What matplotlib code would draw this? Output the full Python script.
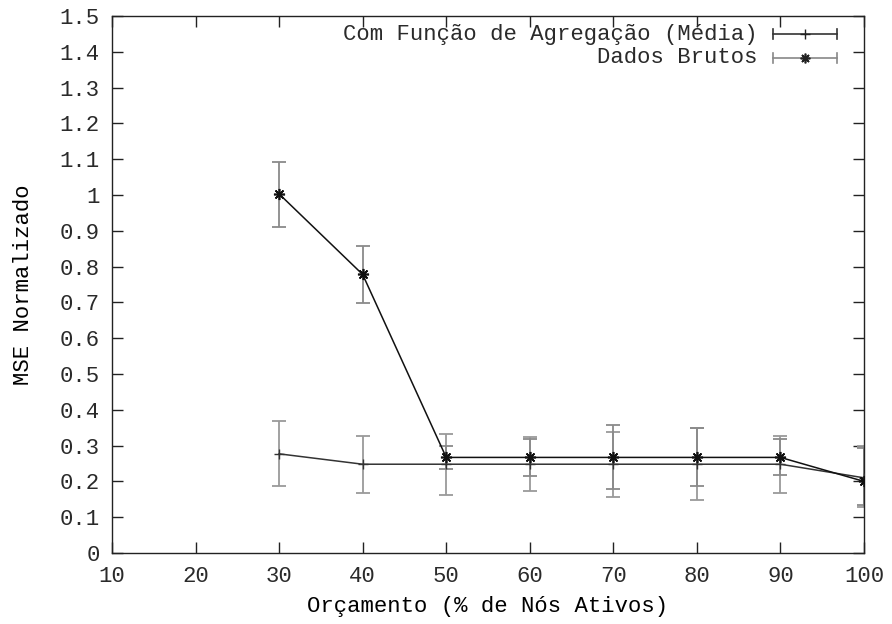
import matplotlib
matplotlib.use("Agg")
import matplotlib.pyplot as plt
from matplotlib.ticker import FuncFormatter, MultipleLocator

# ---- data ----
budget = [30, 40, 50, 60, 70, 80, 90, 100]

agg_mean = [0.277, 0.248, 0.248, 0.248, 0.248, 0.248, 0.248, 0.210]
agg_low = [0.187, 0.167, 0.163, 0.172, 0.156, 0.148, 0.167, 0.128]
agg_high = [0.369, 0.327, 0.333, 0.324, 0.337, 0.348, 0.328, 0.300]

raw_mean = [1.003, 0.778, 0.267, 0.267, 0.267, 0.267, 0.267, 0.200]
raw_low = [0.911, 0.698, 0.236, 0.215, 0.178, 0.188, 0.218, 0.133]
raw_high = [1.092, 0.858, 0.298, 0.319, 0.358, 0.348, 0.318, 0.292]

label_agg = "Com Função de Agregação (Média)"
label_raw = "Dados Brutos"
xlabel = "Orçamento (% de Nós Ativos)"
ylabel = "MSE Normalizado"

plt.rcParams['font.family'] = ['Liberation Mono', 'DejaVu Sans Mono']
plt.rcParams['text.color'] = '#2a2a2a'
FS = 16

fig = plt.figure(figsize=(8.92, 6.24), dpi=100)
ax = fig.add_axes([112/892, 71/624, 752/892, 537/624])

asterisk = (8, 2, 0)

agg_err = [[m - l for m, l in zip(agg_mean, agg_low)],
           [h - m for m, h in zip(agg_mean, agg_high)]]
raw_err = [[m - l for m, l in zip(raw_mean, raw_low)],
           [h - m for m, h in zip(raw_mean, raw_high)]]

ax.errorbar(budget, agg_mean, yerr=agg_err, fmt='none', ecolor='#9a9a9a',
            elinewidth=1.3, capsize=5, capthick=1.3, zorder=2)
ax.plot(budget, agg_mean, color='#333333', lw=1.1, marker='+', ms=7,
        mew=1.0, zorder=3)

ax.errorbar(budget, raw_mean, yerr=raw_err, fmt='none', ecolor='#8a8a8a',
            elinewidth=1.3, capsize=5, capthick=1.3, zorder=2)
ax.plot(budget, raw_mean, color='#111111', lw=1.1, marker=asterisk, ms=8,
        mew=1.2, zorder=4)

ax.set_xlim(10, 100)
ax.set_ylim(0, 1.5)
ax.xaxis.set_major_locator(MultipleLocator(10))
ax.yaxis.set_major_locator(MultipleLocator(0.1))
ax.yaxis.set_major_formatter(FuncFormatter(lambda v, p: "%g" % round(v, 2)))
ax.tick_params(direction='in', length=8, width=1, top=True, right=True,
               labelsize=FS, pad=9, color='#222222', labelcolor='#2a2a2a')
for s in ax.spines.values():
    s.set_linewidth(1.0)
    s.set_color('#222222')

ax.set_xlabel(xlabel, fontsize=FS, labelpad=7)
ax.set_ylabel(ylabel, fontsize=FS, labelpad=18)

# gnuplot-style key
tr = ax.transAxes
rows = [(0.966, label_agg, '#333333', '+', 7, 1.0),
        (0.922, label_raw, '#888888', asterisk, 7, 1.2)]
x0, x1 = 0.879, 0.964
for y, lab, col, mk, ms, mew in rows:
    ax.text(0.859, y, lab, transform=tr, ha='right', va='center', fontsize=FS)
    ax.plot([x0, x1], [y, y], transform=tr, color=col, lw=1.2, clip_on=False)
    for xc in (x0, x1):
        ax.plot([xc, xc], [y - 0.009, y + 0.009], transform=tr, color=col,
                lw=1.2, clip_on=False)
    ax.plot([(x0 + x1) / 2], [y], transform=tr, color='#222222', marker=mk,
            ms=ms, mew=mew, clip_on=False)

fig.savefig("out.png", dpi=100)
